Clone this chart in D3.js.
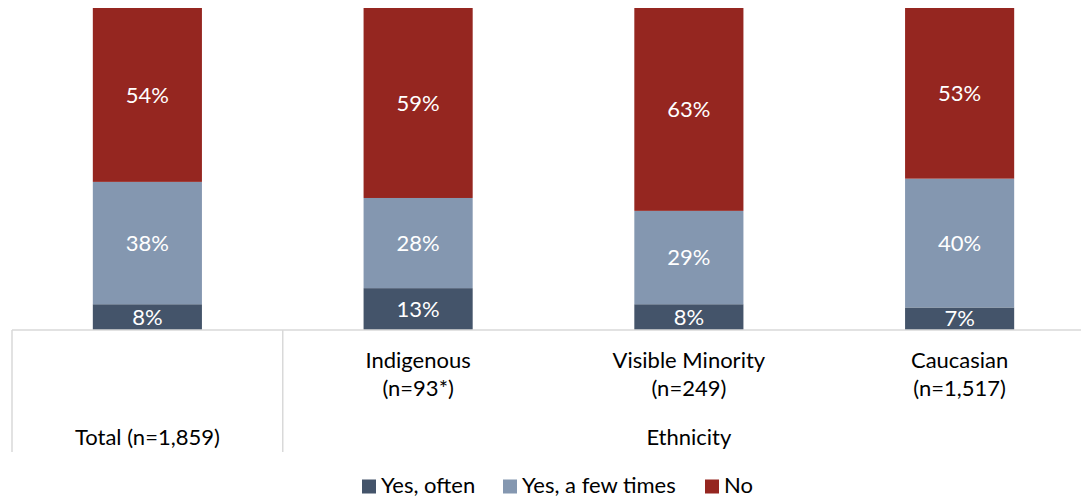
<!DOCTYPE html>
<html><head><meta charset="utf-8">
<script src="https://cdn.jsdelivr.net/npm/d3@7"></script>
<style>
html,body{margin:0;padding:0;background:#fff;}
svg{display:block;font-family:Lato,"Open Sans",sans-serif;}
</style></head>
<body>
<svg id="chart" width="1081" height="498"></svg>
<script>
const categories = ["Total", "Indigenous", "Visible Minority", "Caucasian"];
const categoryLabels = [["Total (n=1,859)"], ["Indigenous", "(n=93*)"], ["Visible Minority", "(n=249)"], ["Caucasian", "(n=1,517)"]];
const groupLabel = "Ethnicity";
const seriesNames = ["Yes, often", "Yes, a few times", "No"];
const yesOften = [8, 13, 8, 7];
const yesFew = [38, 28, 29, 40];
const no = [54, 59, 63, 53];
const colors = ["#44546a", "#8497b0", "#952620"];

(function () {
const FS = 22;
const svg = d3.select("#chart");
const plotTop = 8, plotBottom = 330, plotLeft = 12, plotRight = 1095;

const rows = categories.map((c, i) => ({cat: c, "Yes, often": yesOften[i], "Yes, a few times": yesFew[i], "No": no[i]}));
const stack = d3.stack().keys(seriesNames)(rows);

const x = d3.scaleBand().domain(categories).range([plotLeft, plotRight]).padding(0);
const barW = x.bandwidth() * 0.403;
const y = d3.scaleLinear().domain([0, 100]).range([plotBottom, plotTop]);
const color = d3.scaleOrdinal().domain(seriesNames).range(colors);

const g = svg.append("g");
stack.forEach(s => {
  const sg = g.append("g").attr("fill", color(s.key));
  sg.selectAll("rect").data(s).join("rect")
    .attr("x", d => x(d.data.cat) + (x.bandwidth() - barW) / 2)
    .attr("width", barW)
    .attr("y", d => y(d[1]))
    .attr("height", d => y(d[0]) - y(d[1]));
  sg.selectAll("text").data(s).join("text")
    .attr("x", d => x(d.data.cat) + x.bandwidth() / 2)
    .attr("y", d => (y(d[0]) + y(d[1])) / 2)
    .attr("dy", "0.35em")
    .attr("text-anchor", "middle")
    .attr("fill", "#fff")
    .attr("font-size", FS)
    .text(d => (d[1] - d[0]) + "%");
});

const axisG = svg.append("g").attr("stroke", "#d9d9d9").attr("stroke-width", 1.5);
axisG.append("line").attr("x1", plotLeft).attr("x2", plotRight).attr("y1", plotBottom).attr("y2", plotBottom);
axisG.append("line").attr("x1", plotLeft).attr("x2", plotLeft).attr("y1", plotBottom).attr("y2", 452);
axisG.append("line").attr("x1", x(categories[1])).attr("x2", x(categories[1])).attr("y1", plotBottom).attr("y2", 452);
axisG.append("line").attr("x1", plotRight).attr("x2", plotRight).attr("y1", plotBottom).attr("y2", 452);

categories.forEach((c, i) => {
  const lines = categoryLabels[i];
  const cx = x(c) + x.bandwidth() / 2;
  const t = svg.append("text").attr("text-anchor", "middle").attr("font-size", FS).attr("fill", "#000");
  if (i === 0) {
    t.append("tspan").attr("x", cx).attr("y", 437).attr("dy", "0.35em").text(lines[0]);
  } else {
    lines.forEach((l, j) => t.append("tspan").attr("x", cx).attr("y", 360 + j * 28).attr("dy", "0.35em").text(l));
  }
});
const gx = (x(categories[1]) + x(categories[3]) + x.bandwidth()) / 2;
svg.append("text").attr("x", gx).attr("y", 437).attr("dy", "0.35em").attr("text-anchor", "middle")
  .attr("font-size", FS).attr("fill", "#000").text(groupLabel);

const legendX = [362, 503, 705];
const lg = svg.append("g");
seriesNames.forEach((s, i) => {
  lg.append("rect").attr("x", legendX[i]).attr("y", 479.5).attr("width", 14).attr("height", 14).attr("fill", color(s));
  lg.append("text").attr("x", legendX[i] + 19).attr("y", 485.5).attr("dy", "0.35em").attr("font-size", FS).attr("fill", "#000").text(s);
});
})();
</script>
</body></html>
